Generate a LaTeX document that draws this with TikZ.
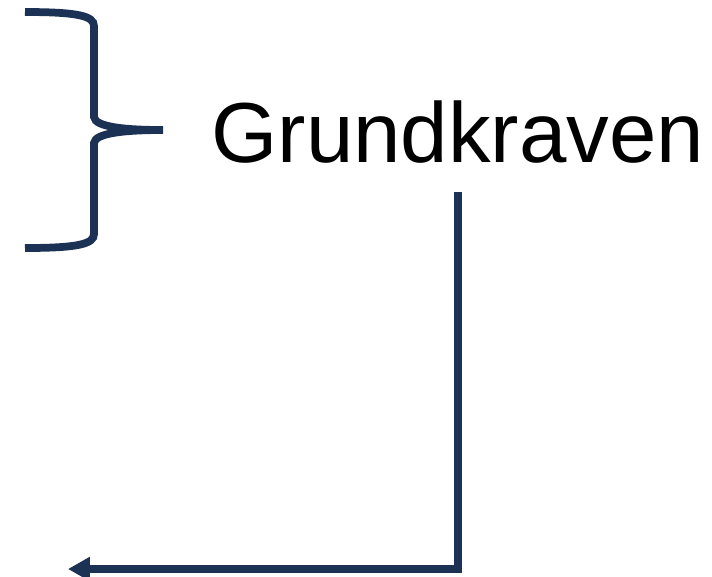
\documentclass[tikz,border=0pt]{standalone}
\usepackage{fontspec}
\setmainfont{Liberation Sans}
\usetikzlibrary{arrows.meta}
\definecolor{navy}{RGB}{27,50,85}
\tikzset{
  navyline/.style={draw=navy, line width=0.155cm},
  label/.style={inner sep=0pt, anchor=base west, font=\fontsize{48.5}{58}\selectfont}
}
\begin{document}
\begin{tikzpicture}[x=0.02cm,y=-0.02cm]
      \useasboundingbox (0,0) rectangle (712,576);
      \node[label] (krav) at (211,162) {Grundkraven};
      \coordinate (start) at (458,192);
      \coordinate (stop) at (68,569);
      % brace
      \draw[navyline]
        (25,12) .. controls (78,12) and (94,16) .. (94,26)
        -- (94,117) .. controls (95,127) and (125,130) .. (163,130)
        .. controls (125,130) and (95,133) .. (94,143)
        -- (94,234) .. controls (94,244) and (78,248) .. (25,248);
      \begin{scope}[-{Triangle[length=0.44cm,width=0.46cm]}]
        \draw[navyline] (start) |- (stop);
      \end{scope}
    \end{tikzpicture}
\end{document}
